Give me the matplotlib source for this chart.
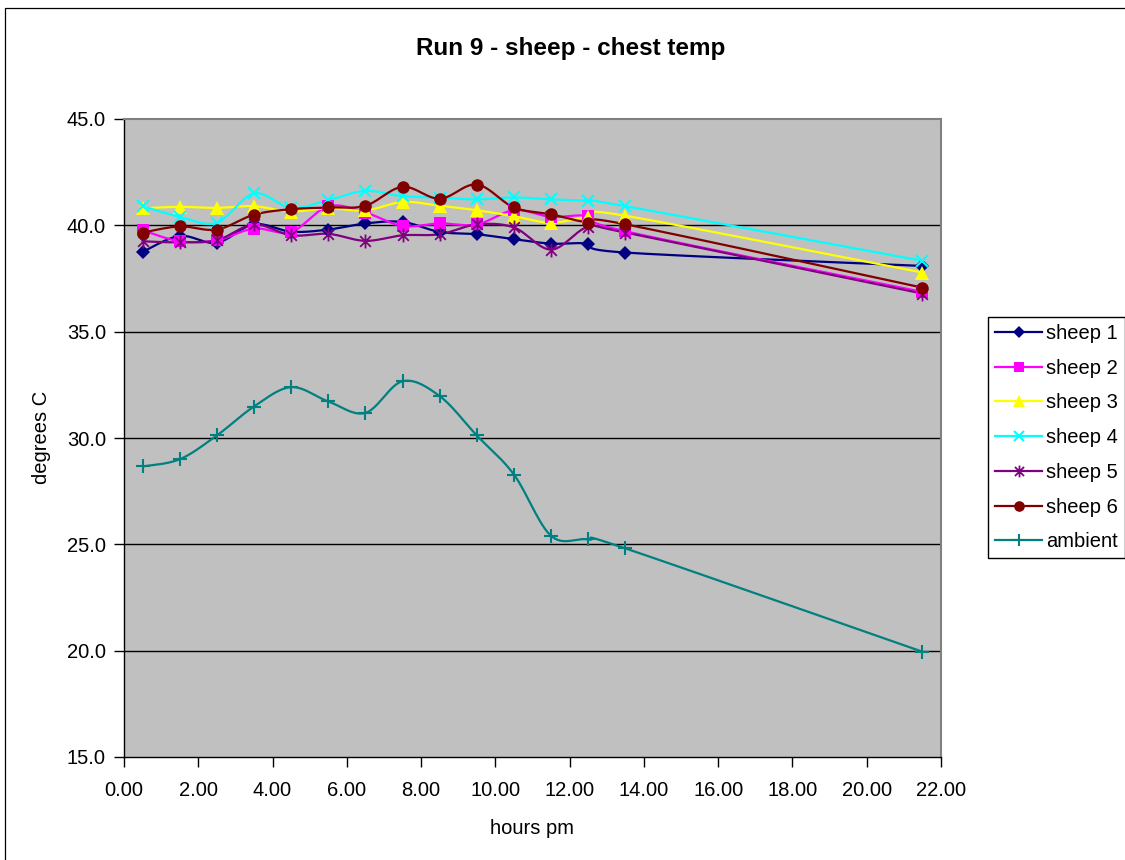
import numpy as np
import matplotlib
matplotlib.use("Agg")
import matplotlib.pyplot as plt
from matplotlib.path import Path
from matplotlib.patches import Rectangle

plt.rcParams['font.family'] = ['Liberation Sans', 'DejaVu Sans']

# ---- data ----
hours = [0.5, 1.5, 2.5, 3.5, 4.5, 5.5, 6.5, 7.5, 8.5, 9.5, 10.5, 11.5, 12.5, 13.5, 21.5]
sheep1 = [38.75, 39.5, 39.18, 40.05, 39.7, 39.8, 40.09, 40.16, 39.69, 39.58, 39.35, 39.14, 39.14, 38.72, 38.09]
sheep2 = [39.77, 39.25, 39.3, 39.85, 39.69, 40.9, 40.6, 39.97, 40.09, 40.04, 40.71, 40.4, 40.43, 39.72, 36.87]
sheep3 = [40.8, 40.87, 40.82, 40.9, 40.65, 40.8, 40.7, 41.1, 40.92, 40.71, 40.43, 40.12, 40.4, 40.45, 37.78]
sheep4 = [40.9, 40.4, 40.12, 41.5, 40.82, 41.18, 41.62, 41.37, 41.3, 41.22, 41.31, 41.22, 41.14, 40.9, 38.33]
sheep5 = [39.25, 39.2, 39.3, 40.04, 39.53, 39.6, 39.27, 39.53, 39.58, 40.04, 39.9, 38.86, 39.93, 39.66, 36.79]
sheep6 = [39.66, 39.95, 39.8, 40.5, 40.76, 40.84, 40.92, 41.81, 41.25, 41.92, 40.84, 40.52, 40.13, 40.05, 37.07]
ambient = [28.66, 29.0, 30.12, 31.48, 32.39, 31.72, 31.18, 32.67, 31.97, 30.12, 28.28, 25.4, 25.23, 24.81, 19.95]

series_names = ['sheep 1', 'sheep 2', 'sheep 3', 'sheep 4', 'sheep 5', 'sheep 6', 'ambient']
series_values = [sheep1, sheep2, sheep3, sheep4, sheep5, sheep6, ambient]
colors = ['#000080', '#FF00FF', '#FFFF00', '#00FFFF', '#800080', '#800000', '#008080']

x_ticks = [0, 2, 4, 6, 8, 10, 12, 14, 16, 18, 20, 22]
y_ticks = [15, 20, 25, 30, 35, 40, 45]

# asterisk marker (x plus vertical bar), like Excel
star_path = Path([(-1, -1), (1, 1), (-1, 1), (1, -1), (0, -1.3), (0, 1.3)],
                 [Path.MOVETO, Path.LINETO, Path.MOVETO, Path.LINETO, Path.MOVETO, Path.LINETO])

marker_styles = [
    dict(marker='D', ms=7, mfc=None, mew=0),
    dict(marker='s', ms=8, mew=0),
    dict(marker='^', ms=10, mew=0),
    dict(marker='x', ms=9, mew=1.5),
    dict(marker=star_path, ms=10, mew=1.3, mfc='none'),
    dict(marker='o', ms=9, mew=0),
    dict(marker='+', ms=10, mew=1.5),
]


def smooth(x, y, n=30):
    x = np.asarray(x, float)
    y = np.asarray(y, float)
    P = np.column_stack([x, y])
    out = [P[0]]
    m = len(P)
    t = np.linspace(0, 1, n)[1:, None]
    for i in range(m - 1):
        p0 = P[i - 1] if i > 0 else P[i]
        p1 = P[i]
        p2 = P[i + 1]
        p3 = P[i + 2] if i + 2 < m else P[i + 1]
        c1 = p1 + (p2 - p0) / 6.0
        c2 = p2 - (p3 - p1) / 6.0
        seg = ((1 - t) ** 3) * p1 + 3 * ((1 - t) ** 2) * t * c1 + 3 * (1 - t) * t ** 2 * c2 + t ** 3 * p2
        out.extend(seg)
    out = np.array(out)
    return out[:, 0], out[:, 1]


W, H = 1125, 860
fig = plt.figure(figsize=(W / 100, H / 100), dpi=100)
fig.patch.set_facecolor('white')

# chart area border
fig.add_artist(Rectangle((5 / W, -0.1), 1.2, 1.1 - 8 / H, transform=fig.transFigure,
                         fill=False, edgecolor='black', linewidth=0.9))

left, right, top, bottom = 124, 941, 119, 757
ax = fig.add_axes([left / W, 1 - bottom / H, (right - left) / W, (bottom - top) / H])
ax.set_facecolor('#C0C0C0')
ax.set_xlim(0, 22)
ax.set_ylim(15, 45)

for yv in y_ticks[1:-1]:
    ax.axhline(yv, color='black', lw=1.0, zorder=1)

handles = []
for name, vals, col, ms in zip(series_names, series_values, colors, marker_styles):
    sx, sy = smooth(hours, vals)
    ax.plot(sx, sy, color=col, lw=1.6, zorder=3, solid_capstyle='round')
    kw = dict(ms)
    mk = kw.pop('marker')
    size = kw.pop('ms')
    mew = kw.pop('mew')
    mfc = kw.pop('mfc', None)
    if mfc is None:
        mfc = col
    ax.plot(hours, vals, linestyle='none', marker=mk, markersize=size,
            markerfacecolor=mfc, markeredgecolor=col, markeredgewidth=mew, zorder=4)
    h, = ax.plot([], [], color=col, lw=1.6, marker=mk, markersize=size * 0.85,
                 markerfacecolor=mfc, markeredgecolor=col, markeredgewidth=mew)
    handles.append(h)

ax.set_xticks(x_ticks)
ax.set_xticklabels([f'{v:.2f}' for v in x_ticks])
ax.set_yticks(y_ticks)
ax.set_yticklabels([f'{v:.1f}' for v in y_ticks])
ax.tick_params(axis='both', direction='out', length=7, width=1, colors='black',
               labelsize=14.5, pad=6)
ax.tick_params(axis='x', pad=10)

for s in ['left', 'bottom']:
    ax.spines[s].set_color('black')
    ax.spines[s].set_linewidth(1.0)
for s in ['top', 'right']:
    ax.spines[s].set_color('#808080')
    ax.spines[s].set_linewidth(1.5)

ax.set_xlabel('hours pm', fontsize=14.5, labelpad=14)
ax.set_ylabel('degrees C', fontsize=14.5)
ax.yaxis.set_label_coords(51 / W, 1 - 437 / H, transform=fig.transFigure)

fig.text(571 / W, 1 - 48 / H, 'Run 9 - sheep - chest temp', ha='center', va='center',
         fontsize=17.5, fontweight='bold')

leg = fig.legend(handles, series_names, loc='upper left',
                 bbox_to_anchor=(988 / W, 1 - 317 / H), bbox_transform=fig.transFigure,
                 fontsize=14.5, frameon=True, fancybox=False, framealpha=1,
                 edgecolor='black', handlelength=2.35, handletextpad=0.2,
                 labelspacing=0.78, borderpad=0.35, borderaxespad=0)
leg.get_frame().set_linewidth(1.0)

fig.savefig('out.png', dpi=100, facecolor='white')
